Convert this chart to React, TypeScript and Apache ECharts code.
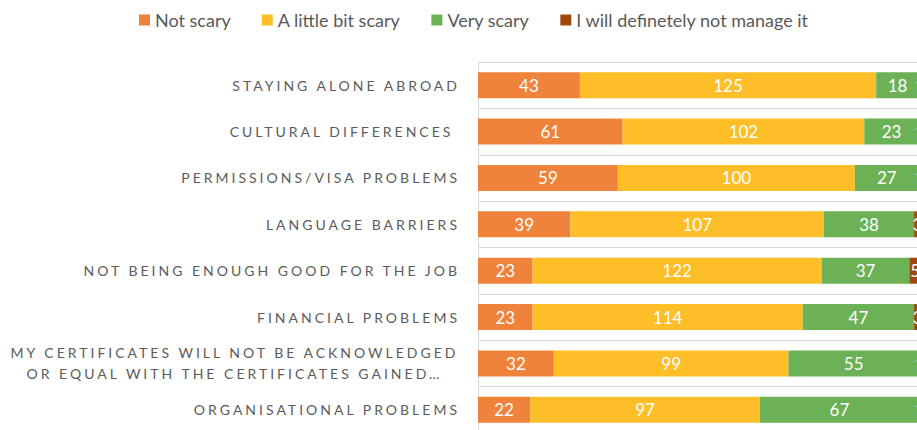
import React, { useEffect, useRef } from "react";
import * as echarts from "echarts";

const categories = [
  "STAYING ALONE ABROAD",
  "CULTURAL DIFFERENCES ",
  "PERMISSIONS/VISA PROBLEMS",
  "LANGUAGE BARRIERS",
  "NOT BEING ENOUGH GOOD FOR THE JOB",
  "FINANCIAL PROBLEMS",
  "MY CERTIFICATES WILL NOT BE ACKNOWLEDGED\nOR EQUAL WITH THE CERTIFICATES GAINED…",
  "ORGANISATIONAL PROBLEMS",
];
const seriesNames = [
  "Not scary",
  "A little bit scary",
  "Very scary",
  "I will definetely not manage it",
];
const notScary = [43, 61, 59, 39, 23, 23, 32, 22];
const littleScary = [125, 102, 100, 107, 122, 114, 99, 97];
const veryScary = [18, 23, 27, 38, 37, 47, 55, 67];
const notManage = [1, 1, 1, 3, 5, 3, 1, 1];
const colors = ["#F0833C", "#FDBE27", "#6CB155", "#9E480E"];

const LABEL_COLOR = "#5b5b5b";
const FONT = "Lato";

export default function App() {
  const ref = useRef<HTMLDivElement>(null);
  useEffect(() => {
    if (!ref.current) return;
    const chart = echarts.init(ref.current, undefined, { renderer: "svg" });
    const values = [notScary, littleScary, veryScary, notManage];
    chart.setOption({
      animation: false,
      textStyle: { fontFamily: FONT },
      legend: {
        left: 134,
        top: 6,
        itemWidth: 11,
        itemHeight: 11,
        itemGap: 31,
        icon: "rect",
        textStyle: { fontSize: 18, color: "#595959", fontFamily: FONT },
        data: seriesNames,
      },
      grid: { left: 478, top: 62, right: 8, height: 371, containLabel: false },
      xAxis: { type: "value", min: 0, max: 200, show: false },
      yAxis: {
        type: "category",
        inverse: true,
        data: categories,
        axisLine: { show: true, lineStyle: { color: "#d9d9d9", width: 1 } },
        axisTick: { show: false },
        splitLine: { show: true, lineStyle: { color: "#d9d9d9", width: 1 } },
        axisLabel: {
          margin: 18,
          fontSize: 14,
          color: LABEL_COLOR,
          fontFamily: FONT,
          interval: 0,
          formatter: (v: string) =>
            v.indexOf("\n") >= 0
              ? v
                  .split("\n")
                  .map((l) => "{c|" + l + "}")
                  .join("\n")
              : v,
          rich: {
            c: {
              width: 451,
              align: "center",
              fontSize: 14,
              lineHeight: 21,
              color: LABEL_COLOR,
              fontFamily: FONT,
            },
          },
        },
      },
      series: seriesNames.map((name, i) => ({
        name,
        type: "bar",
        stack: "total",
        barWidth: 26,
        data: values[i],
        itemStyle: { color: colors[i] },
        label: {
          show: true,
          position: "inside",
          color: "#ffffff",
          fontSize: 17,
          fontFamily: FONT,
        },
      })),
    });
    return () => chart.dispose();
  }, []);
  return (
    <div
      style={{
        position: "fixed",
        left: 0,
        top: 0,
        width: 917,
        height: 430,
        overflow: "hidden",
        background: "#fff",
      }}
    >
      <style>{`svg text{white-space:pre;} text[fill="${LABEL_COLOR}"]{letter-spacing:3px;}`}</style>
      <div ref={ref} style={{ width: 960, height: 440 }} />
    </div>
  );
}
